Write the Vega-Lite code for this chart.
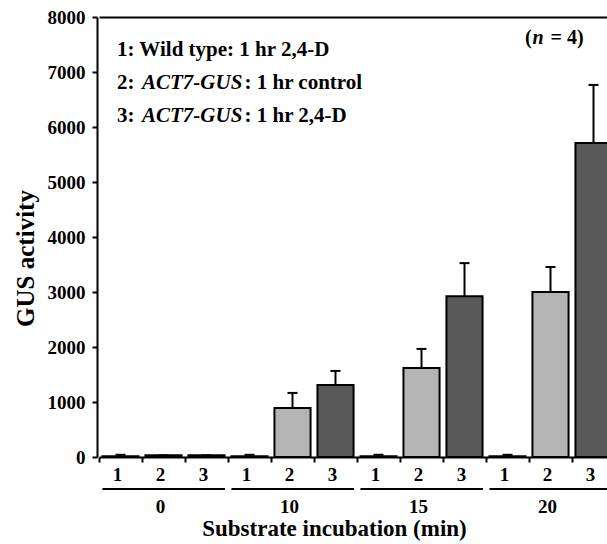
{
  "$schema": "https://vega.github.io/schema/vega-lite/v6.json",
  "width": 516,
  "height": 440,
  "autosize": {"type": "none"},
  "padding": {"left": 99, "top": 17, "right": -8, "bottom": 87},
  "background": "white",
  "config": {"view": {"stroke": null}, "font": "Liberation Serif"},
  "datasets": {
    "bars": [
      {"time": "0", "bar": "1", "key": "0-1", "value": 15, "upper": 40},
      {"time": "0", "bar": "2", "key": "0-2", "value": 30, "upper": 30},
      {"time": "0", "bar": "3", "key": "0-3", "value": 30, "upper": 30},
      {"time": "10", "bar": "1", "key": "10-1", "value": 15, "upper": 40},
      {"time": "10", "bar": "2", "key": "10-2", "value": 890, "upper": 1165},
      {"time": "10", "bar": "3", "key": "10-3", "value": 1310, "upper": 1565},
      {"time": "15", "bar": "1", "key": "15-1", "value": 15, "upper": 40},
      {"time": "15", "bar": "2", "key": "15-2", "value": 1620, "upper": 1965},
      {"time": "15", "bar": "3", "key": "15-3", "value": 2925, "upper": 3525},
      {"time": "20", "bar": "1", "key": "20-1", "value": 15, "upper": 40},
      {"time": "20", "bar": "2", "key": "20-2", "value": 3000, "upper": 3455},
      {"time": "20", "bar": "3", "key": "20-3", "value": 5710, "upper": 6765}
    ],
    "groups": [
      {"time": "0", "first": "0-1", "last": "0-3"},
      {"time": "10", "first": "10-1", "last": "10-3"},
      {"time": "15", "first": "15-1", "last": "15-3"},
      {"time": "20", "first": "20-1", "last": "20-3"}
    ]
  },
  "layer": [
    {
      "data": {"name": "bars"},
      "mark": {"type": "bar", "stroke": "black", "strokeWidth": 2, "width": {"band": 0.84}},
      "encoding": {
        "x": {
          "field": "key", "type": "nominal", "sort": null,
          "scale": {"type": "band", "domain": ["0-1","0-2","0-3","10-1","10-2","10-3","15-1","15-2","15-3","20-1","20-2","20-3"], "paddingInner": 0, "paddingOuter": 0},
          "axis": {
            "orient": "bottom", "bandPosition": 0, "labelOffset": -3,
            "labelExpr": "split(datum.value,'-')[1] == '2' ? ['2', split(datum.value,'-')[0]] : split(datum.value,'-')[1]",
            "labelLineHeight": 32, "labelFontSize": 19, "labelFontWeight": "bold", "labelFont": "Liberation Serif",
            "labelColor": "black", "labelPadding": 3, "labelAngle": 0, "labelOverlap": false, "labelBaseline": "top",
            "tickSize": 5, "tickWidth": 2, "tickColor": "black", "domainColor": "black", "domainWidth": 2,
            "title": "Substrate incubation (min)", "titleFontSize": 23, "titleFont": "Liberation Serif",
            "titleFontWeight": "bold", "titleColor": "black", "titleX": 235, "titleY": 78, "titleBaseline": "alphabetic", "titleAlign": "center"
          }
        },
        "y": {
          "field": "value", "type": "quantitative",
          "scale": {"domain": [0, 8000], "nice": false},
          "axis": {
            "values": [0,1000,2000,3000,4000,5000,6000,7000,8000], "format": "d", "grid": false, "offset": 2,
            "labelFontSize": 19, "labelFontWeight": "bold", "labelFont": "Liberation Serif", "labelColor": "black", "labelPadding": 7,
            "tickSize": 5, "tickWidth": 2, "tickColor": "black", "domainColor": "black", "domainWidth": 2,
            "title": "GUS activity", "titleFontSize": 25, "titleFont": "Liberation Serif", "titleFontWeight": "bold", "titleColor": "black",
            "titleX": -64, "titleY": 241, "titleBaseline": "alphabetic", "titleAlign": "center", "titleAngle": -90
          }
        },
        "fill": {"field": "bar", "type": "nominal", "scale": {"domain": ["1","2","3"], "range": ["white", "#b4b4b4", "#595959"]}, "legend": null}
      }
    },
    {
      "data": {"name": "bars"},
      "mark": {"type": "rule", "strokeWidth": 2, "color": "black"},
      "encoding": {
        "x": {"field": "key", "type": "nominal", "axis": null},
        "y": {"field": "value", "type": "quantitative", "axis": null},
        "y2": {"field": "upper"}
      }
    },
    {
      "data": {"name": "bars"},
      "mark": {"type": "tick", "size": 10, "thickness": 2, "color": "black", "orient": "horizontal", "opacity": 1},
      "encoding": {
        "x": {"field": "key", "type": "nominal", "axis": {"orient": "top", "labels": false, "ticks": false, "title": null, "domainWidth": 2, "domainColor": "black"}},
        "y": {"field": "upper", "type": "quantitative", "axis": null}
      }
    },
    {
      "data": {"name": "groups"},
      "mark": {"type": "rule", "strokeWidth": 2, "color": "black"},
      "encoding": {
        "x": {"field": "first", "type": "nominal", "bandPosition": 0.08, "axis": null},
        "x2": {"field": "last", "bandPosition": 0.93},
        "y": {"datum": -580, "type": "quantitative", "axis": null}
      }
    },
    {
      "data": {"values": [{"label": ["1: Wild type: 1 hr 2,4-D", "2:", "3:"]}]},
      "mark": {"type": "text", "align": "left", "baseline": "alphabetic", "font": "Liberation Serif", "fontSize": 21, "fontWeight": "bold", "lineHeight": 33, "dx": -3.5, "color": "black"},
      "encoding": {
        "x": {"datum": "0-1", "type": "nominal", "axis": null},
        "y": {"datum": 7291, "type": "quantitative", "axis": null},
        "text": {"field": "label"}
      }
    },
    {
      "data": {"values": [{"label": ["ACT7-GUS", "ACT7-GUS"]}]},
      "mark": {"type": "text", "align": "left", "baseline": "alphabetic", "font": "Liberation Serif", "fontSize": 21, "fontWeight": "bold", "fontStyle": "italic", "lineHeight": 33, "dx": 21.5, "color": "black"},
      "encoding": {
        "x": {"datum": "0-1", "type": "nominal", "axis": null},
        "y": {"datum": 6691, "type": "quantitative", "axis": null},
        "text": {"field": "label"}
      }
    },
    {
      "data": {"values": [{"label": [": 1 hr control", ": 1 hr 2,4-D"]}]},
      "mark": {"type": "text", "align": "left", "baseline": "alphabetic", "font": "Liberation Serif", "fontSize": 21, "fontWeight": "bold", "lineHeight": 33, "dx": 124, "color": "black"},
      "encoding": {
        "x": {"datum": "0-1", "type": "nominal", "axis": null},
        "y": {"datum": 6691, "type": "quantitative", "axis": null},
        "text": {"field": "label"}
      }
    },
    {
      "data": {"values": [{"label": "("}]},
      "mark": {"type": "text", "align": "left", "baseline": "alphabetic", "font": "Liberation Serif", "fontSize": 20, "fontWeight": "bold", "dx": -25.5, "color": "black"},
      "encoding": {
        "x": {"datum": "20-2", "type": "nominal", "axis": null},
        "y": {"datum": 7509, "type": "quantitative", "axis": null},
        "text": {"field": "label"}
      }
    },
    {
      "data": {"values": [{"label": "n"}]},
      "mark": {"type": "text", "align": "left", "baseline": "alphabetic", "font": "Liberation Serif", "fontSize": 20, "fontWeight": "bold", "fontStyle": "italic", "dx": -18, "color": "black"},
      "encoding": {
        "x": {"datum": "20-2", "type": "nominal", "axis": null},
        "y": {"datum": 7509, "type": "quantitative", "axis": null},
        "text": {"field": "label"}
      }
    },
    {
      "data": {"values": [{"label": "= 4)"}]},
      "mark": {"type": "text", "align": "left", "baseline": "alphabetic", "font": "Liberation Serif", "fontSize": 20, "fontWeight": "bold", "dx": 0, "color": "black"},
      "encoding": {
        "x": {"datum": "20-2", "type": "nominal", "axis": null},
        "y": {"datum": 7509, "type": "quantitative", "axis": null},
        "text": {"field": "label"}
      }
    }
  ],
  "resolve": {"axis": {"x": "independent", "y": "independent"}}
}
